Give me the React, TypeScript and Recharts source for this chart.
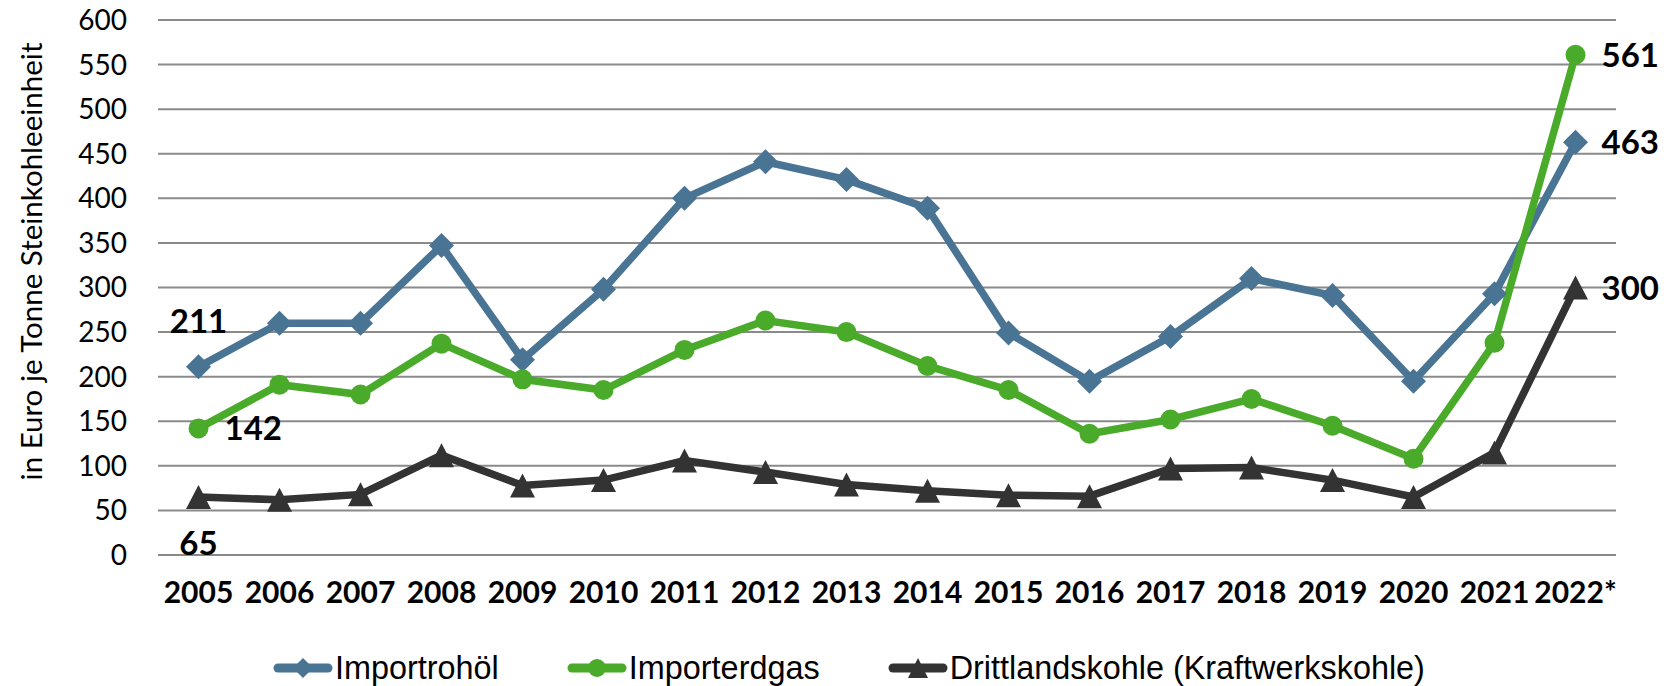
import React from "react";
import { LineChart, Line, XAxis, YAxis, CartesianGrid, Legend } from "recharts";

const years = [
  "2005", "2006", "2007", "2008", "2009", "2010", "2011", "2012", "2013",
  "2014", "2015", "2016", "2017", "2018", "2019", "2020", "2021", "2022*",
];
const importrohoel = [211, 260, 260, 347, 219, 298, 400, 441, 421, 389, 249, 195, 245, 310, 291, 195, 293, 463];
const importerdgas = [142, 191, 180, 237, 197, 185, 230, 263, 250, 212, 185, 136, 152, 175, 145, 108, 238, 561];
const drittlandskohle = [65, 62, 68, 112, 78, 84, 106, 93, 79, 72, 67, 66, 97, 98, 84, 65, 115, 300];
const yTicks = [0, 50, 100, 150, 200, 250, 300, 350, 400, 450, 500, 550, 600];

const data = years.map((year, i) => ({
  year,
  oil: importrohoel[i],
  gas: importerdgas[i],
  coal: drittlandskohle[i],
}));

const BLUE = "#4a7494";
const GREEN = "#4aaa2a";
const DARK = "#333333";
const FONT = "Lato, 'Open Sans', sans-serif";

const diamond = (cx: number, cy: number, r: number) =>
  `M${cx} ${cy - r} L${cx + r} ${cy} L${cx} ${cy + r} L${cx - r} ${cy} Z`;
const triangle = (cx: number, cy: number, w: number, h: number) =>
  `M${cx} ${cy - h / 2} L${cx + w / 2} ${cy + h / 2} L${cx - w / 2} ${cy + h / 2} Z`;

const DiamondDot = (p: any) =>
  p.cx == null ? null : <path key={p.index} d={diamond(p.cx, p.cy, 12.5)} fill={BLUE} />;
const CircleDot = (p: any) =>
  p.cx == null ? null : <circle key={p.index} cx={p.cx} cy={p.cy} r={10} fill={GREEN} />;
const TriangleDot = (p: any) =>
  p.cx == null ? null : <path key={p.index} d={triangle(p.cx, p.cy, 25, 24)} fill={DARK} />;

// only first and last value carry a label
function endLabel(firstPos: "top" | "right" | "bottom") {
  return (props: any) => {
    const x = props.x ?? props.viewBox?.x;
    const y = props.y ?? props.viewBox?.y;
    const { value, index } = props;
    const last = years.length - 1;
    if (index !== 0 && index !== last) return null;
    const pos = index === last ? "right" : firstPos;
    let tx = x + 26;
    let ty = y + 12;
    let anchor: "start" | "middle" = "start";
    if (pos === "top") {
      tx = x;
      ty = y - 34;
      anchor = "middle";
    } else if (pos === "bottom") {
      tx = x;
      ty = y + 58;
      anchor = "middle";
    }
    return (
      <text
        key={`lbl-${index}`}
        x={tx}
        y={ty}
        textAnchor={anchor}
        fontFamily={FONT}
        fontWeight={700}
        fontSize={33}
        fill="#000"
      >
        {value}
      </text>
    );
  };
}

const legendItems = [
  { name: "Importrohöl", color: BLUE, shape: "diamond" },
  { name: "Importerdgas", color: GREEN, shape: "circle" },
  { name: "Drittlandskohle (Kraftwerkskohle)", color: DARK, shape: "triangle" },
];

function LegendContent() {
  return (
    <div
      style={{
        display: "flex",
        height: 36,
        alignItems: "center",
        paddingLeft: 273,
        gap: 68,
        fontFamily: "'Liberation Sans', Arial, sans-serif",
        fontSize: 32.4,
        lineHeight: "36px",
        color: "#000",
      }}
    >
      {legendItems.map((it) => (
        <div key={it.name} style={{ display: "flex", alignItems: "center" }}>
          <svg width={60} height={36} style={{ marginRight: 2 }}>
            <line x1={5} y1={18} x2={55} y2={18} stroke={it.color} strokeWidth={9} strokeLinecap="round" />
            {it.shape === "diamond" && <path d={diamond(30, 18, 10)} fill={it.color} />}
            {it.shape === "circle" && <circle cx={30} cy={18} r={9} fill={it.color} />}
            {it.shape === "triangle" && <path d={triangle(30, 18, 20, 20)} fill={it.color} />}
          </svg>
          <span>{it.name}</span>
        </div>
      ))}
    </div>
  );
}

const AxisTitle = (props: any) => {
  const vb = props.viewBox || { x: 0, y: 20, height: 535 };
  const x = vb.x + 42;
  const y = vb.y + vb.height / 2 - 26;
  return (
    <text
      x={x}
      y={y}
      transform={`rotate(-90, ${x}, ${y})`}
      textAnchor="middle"
      fontFamily={FONT}
      fontSize={29.5}
      fill="#000"
    >
      in Euro je Tonne Steinkohleeinheit
    </text>
  );
};

export default function App() {
  return (
    <div style={{ position: "absolute", left: 0, top: 0, background: "#fff" }}>
      <LineChart
        width={1664}
        height={686}
        data={data}
        margin={{ top: 20, right: 48, left: 0, bottom: 0 }}
      >
        <CartesianGrid vertical={false} stroke="#8a8a8a" strokeWidth={2} />
        <XAxis
          dataKey="year"
          axisLine={false}
          tickLine={false}
          tickMargin={21}
          height={95}
          interval={0}
          padding={{ left: 40.5, right: 40.5 }}
          tick={{ fill: "#000", fontSize: 30, fontWeight: 700, fontFamily: FONT }}
        />
        <YAxis
          domain={[0, 600]}
          ticks={yTicks}
          width={158}
          axisLine={false}
          tickLine={false}
          tickMargin={25}
          tick={{ fill: "#000", fontSize: 28, fontFamily: FONT }}
          label={<AxisTitle />}
        />
        <Legend
          verticalAlign="bottom"
          content={<LegendContent />}
          wrapperStyle={{ left: 0, top: 650, width: 1664, height: 36 }}
        />
        <Line
          dataKey="oil"
          name="Importrohöl"
          stroke={BLUE}
          strokeWidth={7.5}
          dot={DiamondDot}
          activeDot={false}
          label={endLabel("top")}
          isAnimationActive={false}
        />
        <Line
          dataKey="gas"
          name="Importerdgas"
          stroke={GREEN}
          strokeWidth={7.5}
          dot={CircleDot}
          activeDot={false}
          label={endLabel("right")}
          isAnimationActive={false}
        />
        <Line
          dataKey="coal"
          name="Drittlandskohle (Kraftwerkskohle)"
          stroke={DARK}
          strokeWidth={7.5}
          dot={TriangleDot}
          activeDot={false}
          label={endLabel("bottom")}
          isAnimationActive={false}
        />
      </LineChart>
    </div>
  );
}
